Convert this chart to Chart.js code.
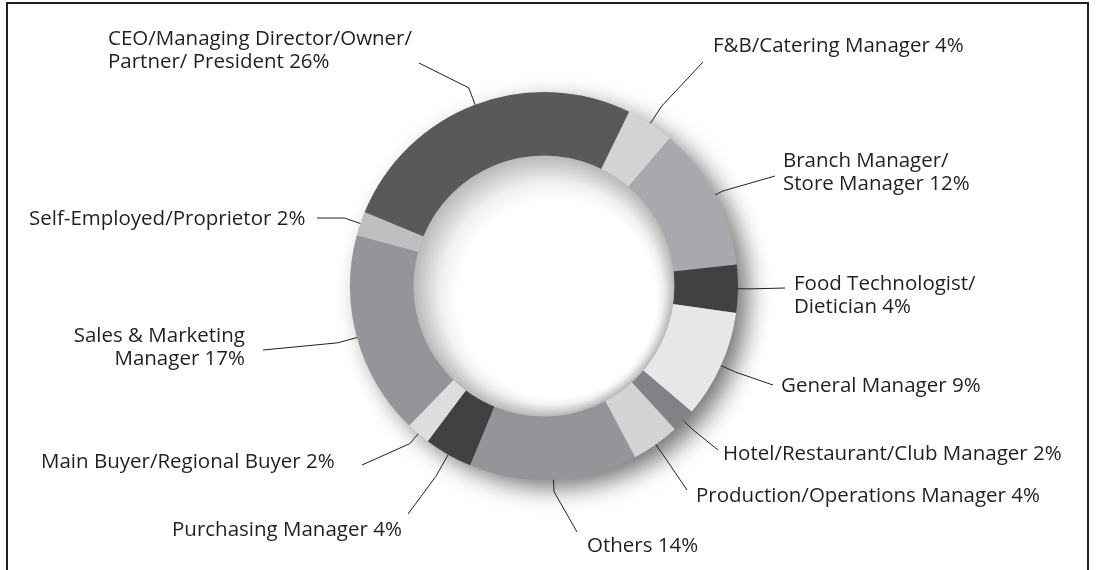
<!DOCTYPE html>
<html>
<head>
<meta charset="utf-8">
<script src="https://cdn.jsdelivr.net/npm/chart.js@4.4.0/dist/chart.umd.min.js"></script>
<style>
    html, body { margin: 0; padding: 0; background: #fff; }
    #wrap { position: relative; width: 1096px; height: 570px; overflow: hidden; }
    #frame { position: absolute; left: 6px; top: 2px; width: 1083px; height: 600px; border: 2px solid #231f20; border-bottom: none; box-sizing: border-box; }
    canvas { position: absolute; left: 0; top: 0; }
</style>
</head>
<body>
<div id="wrap">
    <div id="frame"></div>
    <canvas id="rolesChart" width="1096" height="570"></canvas>
</div>
<script>
// categories, clockwise from the F&B slice
const roleLabels = [
    ['F&B/Catering Manager'],
    ['Branch Manager/', 'Store Manager'],
    ['Food Technologist/', 'Dietician'],
    ['General Manager'],
    ['Hotel/Restaurant/Club Manager'],
    ['Production/Operations Manager'],
    ['Others'],
    ['Purchasing Manager'],
    ['Main Buyer/Regional Buyer'],
    ['Sales & Marketing', 'Manager'],
    ['Self-Employed/Proprietor'],
    ['CEO/Managing Director/Owner/', 'Partner/ President']
];
const rolePercents = [4, 12, 4, 9, 2, 4, 14, 4, 2, 17, 2, 26];

const sliceColors = [
    '#d1d3d4', '#a7a9ac', '#414042', '#e6e7e8', '#808285', '#d1d3d4',
    '#939598', '#414042', '#dcddde', '#939598', '#bcbec0', '#58595b'
];

// where each label sits and where its leader line stops
const labelLayout = [
    { x: 713, y: 52,  align: 'left',  end: [703, 62],  elbow: 21 },
    { x: 783, y: 167, align: 'left',  end: [775, 176], elbow: 8 },
    { x: 794, y: 290, align: 'left',  end: [785, 288], elbow: 12 },
    { x: 781, y: 392, align: 'left',  end: [773, 385], elbow: 16 },
    { x: 723, y: 460, align: 'left',  end: [718, 450], elbow: 12 },
    { x: 696, y: 502, align: 'left',  end: [687, 490], elbow: 14 },
    { x: 587, y: 552, align: 'left',  end: [577, 532], elbow: 12 },
    { x: 172, y: 536, align: 'left',  end: [408, 514], elbow: 25 },
    { x: 41,  y: 468, align: 'left',  end: [362, 465], elbow: 13 },
    { x: 245, y: 342, align: 'right', end: [263, 350], elbow: 20 },
    { x: 29,  y: 225, align: 'left',  end: [317, 218], elbow: 17 },
    { x: 108, y: 45,  align: 'left',  end: [419, 63],  elbow: 18 }
];

const ink = '#231f20';

const ringDecor = {
    id: 'ringDecor',
    beforeDatasetsDraw(chart) {
        const arc = chart.getDatasetMeta(0).data[0];
        const ctx = chart.ctx;
        // soft drop shadow to the lower right
        ctx.save();
        ctx.shadowColor = 'rgba(0,0,0,0.55)';
        ctx.shadowBlur = 24;
        ctx.shadowOffsetX = 11;
        ctx.shadowOffsetY = 9;
        ctx.fillStyle = '#9a9a9a';
        ctx.beginPath();
        ctx.arc(arc.x, arc.y, arc.outerRadius - 1, 0, Math.PI * 2);
        ctx.fill();
        ctx.restore();
    },
    afterDatasetsDraw(chart) {
        const arc = chart.getDatasetMeta(0).data[0];
        const ctx = chart.ctx;
        const r = arc.innerRadius;
        // shaded hole
        const g = ctx.createRadialGradient(arc.x + 13, arc.y + 13, r * 0.76, arc.x, arc.y, r);
        g.addColorStop(0, '#ffffff');
        g.addColorStop(0.4, '#f0f0f0');
        g.addColorStop(1, '#b9b9b9');
        ctx.save();
        ctx.fillStyle = g;
        ctx.beginPath();
        ctx.arc(arc.x, arc.y, r + 0.5, 0, Math.PI * 2);
        ctx.fill();
        ctx.restore();
    },
    afterDraw(chart) {
        const ctx = chart.ctx;
        const meta = chart.getDatasetMeta(0);
        ctx.save();
        ctx.strokeStyle = ink;
        ctx.fillStyle = ink;
        ctx.lineWidth = 1;
        ctx.font = '20.5px "Open Sans"';
        ctx.textBaseline = 'alphabetic';
        meta.data.forEach((arc, i) => {
            const lay = labelLayout[i];
            const mid = (arc.startAngle + arc.endAngle) / 2;
            const r0 = arc.outerRadius;
            const r1 = arc.outerRadius + lay.elbow;
            ctx.beginPath();
            ctx.moveTo(arc.x + Math.cos(mid) * r0, arc.y + Math.sin(mid) * r0);
            ctx.lineTo(arc.x + Math.cos(mid) * r1, arc.y + Math.sin(mid) * r1);
            ctx.lineTo(lay.end[0], lay.end[1]);
            ctx.stroke();

            const lines = roleLabels[i].slice();
            lines[lines.length - 1] += ' ' + rolePercents[i] + '%';
            ctx.textAlign = lay.align;
            lines.forEach((t, k) => ctx.fillText(t, lay.x, lay.y + k * 22.5));
        });
        ctx.restore();
    }
};

new Chart(document.getElementById('rolesChart'), {
    type: 'doughnut',
    data: {
        labels: roleLabels,
        datasets: [{
            data: rolePercents,
            backgroundColor: sliceColors,
            borderWidth: 0,
            hoverOffset: 0,
            offset: 0
        }]
    },
    options: {
        responsive: false,
        animation: false,
        rotation: 26,
        cutout: '67%',
        layout: { padding: { left: 350, right: 358, top: 92, bottom: 90 } },
        events: [],
        plugins: { legend: { display: false }, tooltip: { enabled: false } }
    },
    plugins: [ringDecor]
});
</script>
</body>
</html>
